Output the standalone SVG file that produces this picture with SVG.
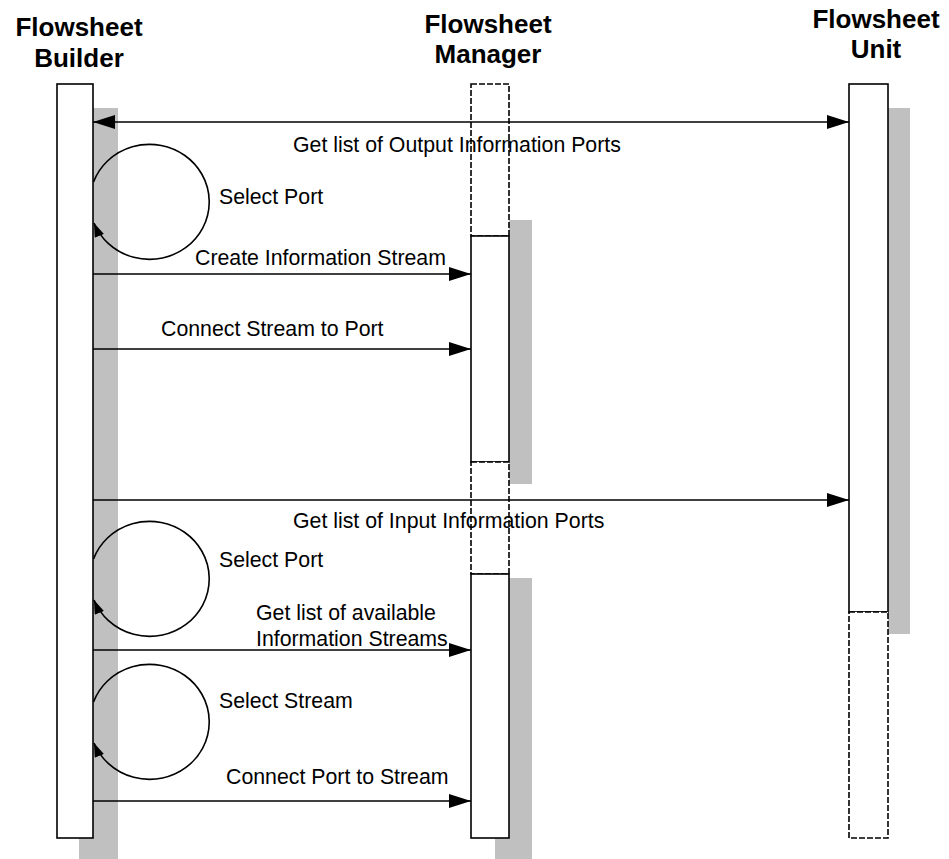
<svg xmlns="http://www.w3.org/2000/svg" width="949" height="859" viewBox="0 0 949 859">
<defs>
<style>
.hdr{font-family:"Liberation Sans",Arial,sans-serif;font-weight:bold;font-size:26px;fill:#000;text-anchor:middle}
.lbl{font-family:"Liberation Sans",Arial,sans-serif;font-size:21.3px;fill:#000}
.shadow{fill:#c0c0c0;stroke:none}
.act{fill:#fff;stroke:#000;stroke-width:1.6}
.dash{fill:#fff;stroke:#000;stroke-width:1.6;stroke-dasharray:6 2}
.msg{fill:none;stroke:#000;stroke-width:1.6}
</style>
<marker id="arr" markerWidth="22" markerHeight="14" refX="22" refY="7" orient="auto-start-reverse" markerUnits="userSpaceOnUse">
<path d="M0,0 L22,7 L0,14 z" fill="#000"/>
</marker>
<marker id="sarr" markerWidth="14" markerHeight="10" refX="14" refY="5" orient="auto" markerUnits="userSpaceOnUse">
<path d="M0,0 L14,5 L0,10 z" fill="#000"/>
</marker>
</defs>
<rect width="949" height="859" fill="#fff"/>

<g id="builder">
<text class="hdr" x="79" y="36">Flowsheet</text>
<text class="hdr" x="79" y="67">Builder</text>
<rect class="shadow" x="79" y="108" width="39" height="751"/>
<rect class="act" x="57" y="84" width="36" height="754"/>
</g>

<g id="manager">
<text class="hdr" x="488" y="33">Flowsheet</text>
<text class="hdr" x="488" y="63">Manager</text>
<rect class="shadow" x="495" y="220" width="37" height="264"/>
<rect class="shadow" x="495" y="578" width="37" height="281"/>
<rect class="dash" x="471" y="84" width="38" height="152"/>
<rect class="act" x="471" y="236" width="38" height="226"/>
<rect class="dash" x="471" y="462" width="38" height="112"/>
<rect class="act" x="471" y="574" width="38" height="264"/>
</g>

<g id="unit">
<text class="hdr" x="876" y="28">Flowsheet</text>
<text class="hdr" x="876" y="58">Unit</text>
<rect class="shadow" x="873" y="108" width="37" height="526"/>
<rect class="act" x="849" y="84" width="39" height="528"/>
<rect class="dash" x="849" y="612" width="39" height="226"/>
</g>

<g id="connectors">
<line class="msg" x1="93" y1="122" x2="849" y2="122" marker-start="url(#arr)" marker-end="url(#arr)"/>
<text class="lbl" x="293" y="152">Get list of Output Information Ports</text>

<path class="msg" d="M93.5,182 A59.7,57.5 0 1 1 94,223" marker-end="url(#sarr)"/>
<text class="lbl" x="219" y="204">Select Port</text>

<line class="msg" x1="93" y1="274" x2="471" y2="274" marker-end="url(#arr)"/>
<text class="lbl" x="195" y="265">Create Information Stream</text>

<line class="msg" x1="93" y1="349" x2="471" y2="349" marker-end="url(#arr)"/>
<text class="lbl" x="161" y="336">Connect Stream to Port</text>

<line class="msg" x1="93" y1="500" x2="849" y2="500" marker-end="url(#arr)"/>
<text class="lbl" x="293" y="528">Get list of Input Information Ports</text>

<path class="msg" d="M93.5,559 A59.7,57.5 0 1 1 94,600" marker-end="url(#sarr)"/>
<text class="lbl" x="219" y="567">Select Port</text>

<line class="msg" x1="93" y1="650" x2="471" y2="650" marker-end="url(#arr)"/>
<text class="lbl" x="256" y="620">Get list of available</text>
<text class="lbl" x="256" y="646">Information Streams</text>

<path class="msg" d="M93.5,702 A59.7,57.5 0 1 1 94,743" marker-end="url(#sarr)"/>
<text class="lbl" x="219" y="708">Select Stream</text>

<line class="msg" x1="93" y1="801" x2="471" y2="801" marker-end="url(#arr)"/>
<text class="lbl" x="226" y="784">Connect Port to Stream</text>
</g>
</svg>
